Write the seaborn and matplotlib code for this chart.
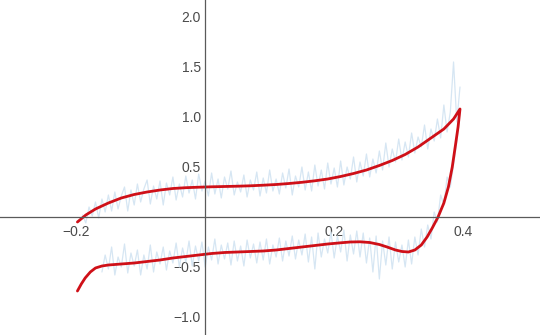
import numpy as np
import pandas as pd
import matplotlib
matplotlib.use("Agg")
import matplotlib.pyplot as plt
import seaborn as sns
from matplotlib.ticker import FixedLocator, FuncFormatter

# ---- data ----
# noisy measurement, forward branch
fwd_x = [round(-0.19 + 0.005 * i, 3) for i in range(118)]
fwd_y = [0.02, -0.06, 0.10, 0.01, 0.15, -0.01, 0.18, 0.05, 0.22, 0.06,
         0.25, 0.08, 0.21, 0.30, 0.06, 0.27, 0.12, 0.33, 0.15, 0.28,
         0.37, 0.13, 0.31, 0.18, 0.36, 0.12, 0.34, 0.22, 0.40, 0.17,
         0.33, 0.20, 0.41, 0.24, 0.37, 0.18, 0.43, 0.26, 0.36, 0.21,
         0.44, 0.23, 0.38, 0.19, 0.40, 0.28, 0.46, 0.22, 0.35, 0.25,
         0.42, 0.20, 0.37, 0.27, 0.45, 0.21, 0.39, 0.24, 0.47, 0.26,
         0.38, 0.23, 0.44, 0.29, 0.48, 0.22, 0.41, 0.30, 0.50, 0.27,
         0.45, 0.26, 0.52, 0.31, 0.47, 0.28, 0.54, 0.33, 0.49, 0.30,
         0.56, 0.32, 0.50, 0.38, 0.60, 0.35, 0.55, 0.41, 0.63, 0.40,
         0.58, 0.44, 0.66, 0.47, 0.74, 0.50, 0.68, 0.55, 0.78, 0.57,
         0.75, 0.60, 0.84, 0.64, 0.80, 0.70, 0.92, 0.68, 0.88, 0.76,
         0.98, 0.79, 1.12, 0.85, 1.05, 1.55, 0.95, 1.30]
# noisy measurement, return branch
rev_x = [round(-0.16 + 0.005 * i, 3) for i in range(112)]
rev_y = [-0.55, -0.38, -0.52, -0.30, -0.58, -0.40, -0.50, -0.27, -0.56, -0.36,
         -0.49, -0.33, -0.58, -0.38, -0.52, -0.28, -0.55, -0.35, -0.47, -0.30,
         -0.53, -0.34, -0.46, -0.26, -0.50, -0.31, -0.45, -0.24, -0.49, -0.29,
         -0.44, -0.25, -0.50, -0.30, -0.43, -0.22, -0.47, -0.28, -0.42, -0.26,
         -0.48, -0.24, -0.44, -0.29, -0.49, -0.23, -0.41, -0.27, -0.46, -0.25,
         -0.43, -0.22, -0.47, -0.28, -0.40, -0.21, -0.44, -0.24, -0.39, -0.19,
         -0.42, -0.23, -0.38, -0.17, -0.45, -0.20, -0.52, -0.16, -0.40, -0.22,
         -0.36, -0.15, -0.41, -0.19, -0.35, -0.13, -0.44, -0.18, -0.37, -0.14,
         -0.40, -0.16, -0.46, -0.21, -0.55, -0.19, -0.62, -0.24, -0.48, -0.20,
         -0.52, -0.25, -0.45, -0.28, -0.50, -0.23, -0.47, -0.20, -0.38, -0.12,
         -0.30, -0.08, -0.22, 0.05, -0.05, 0.22, 0.12, 0.40, 0.30, 0.52,
         0.75, 1.05]

# fitted curve (upper branch then return)
fit_x = [-0.198, -0.185, -0.17, -0.15, -0.13, -0.11, -0.09, -0.07, -0.05, -0.03,
         -0.01, 0.01, 0.03, 0.05, 0.07, 0.09, 0.11, 0.13, 0.15, 0.17,
         0.19, 0.21, 0.23, 0.25, 0.27, 0.29, 0.31, 0.33, 0.35, 0.37,
         0.385, 0.395,
         0.392, 0.388, 0.383, 0.377, 0.370, 0.361, 0.352, 0.344, 0.335, 0.325,
         0.315, 0.305, 0.295, 0.282, 0.27, 0.255, 0.24, 0.225, 0.21, 0.19,
         0.17, 0.15, 0.13, 0.11, 0.09, 0.07, 0.05, 0.03, 0.01, -0.01,
         -0.03, -0.05, -0.07, -0.09, -0.11, -0.13, -0.15, -0.16, -0.17, -0.178,
         -0.186, -0.192, -0.198]
fit_y = [-0.05, 0.02, 0.08, 0.14, 0.19, 0.225, 0.25, 0.27, 0.285, 0.293,
         0.298, 0.302, 0.305, 0.308, 0.312, 0.318, 0.325, 0.335, 0.347, 0.362,
         0.38, 0.405, 0.435, 0.47, 0.515, 0.565, 0.625, 0.70, 0.79, 0.88,
         0.98, 1.08,
         0.90, 0.72, 0.50, 0.30, 0.14, 0.0, -0.11, -0.20, -0.28, -0.33,
         -0.35, -0.345, -0.33, -0.30, -0.275, -0.255, -0.248, -0.25, -0.258, -0.27,
         -0.285, -0.30, -0.315, -0.33, -0.34, -0.345, -0.35, -0.355, -0.365, -0.38,
         -0.395, -0.41, -0.43, -0.445, -0.46, -0.47, -0.48, -0.49, -0.51, -0.55,
         -0.61, -0.67, -0.74]

x_major = [-0.2, 0.2, 0.4]
y_major = [-1.0, -0.5, 0.5, 1.0, 1.5, 2.0]

# ---- plot ----
sns.set_theme(style="white")
plt.rcParams['font.family'] = ['Liberation Sans', 'DejaVu Sans']

fig = plt.figure(figsize=(5.4, 3.35), dpi=100)
ax = fig.add_axes([0, 0, 1, 1])

noise_col = "#d6e6f3"
sns.lineplot(x=fwd_x, y=fwd_y, sort=False, estimator=None, ax=ax,
             color=noise_col, linewidth=0.9)
sns.lineplot(x=rev_x, y=rev_y, sort=False, estimator=None, ax=ax,
             color=noise_col, linewidth=0.9)
sns.lineplot(x=fit_x, y=fit_y, sort=False, estimator=None, ax=ax,
             color="#cf1018", linewidth=2.0)

ax.set_xlim(-0.318, 0.519)
ax.set_ylim(-1.18, 2.17)

for s in ["top", "right"]:
    ax.spines[s].set_visible(False)
ax.spines["left"].set_position(("data", 0))
ax.spines["bottom"].set_position(("data", 0))
for s in ["left", "bottom"]:
    ax.spines[s].set_color("#5a5a5a")
    ax.spines[s].set_linewidth(0.9)

ax.xaxis.set_major_locator(FixedLocator(x_major))
ax.yaxis.set_major_locator(FixedLocator(y_major))
xminor = [v / 100 for v in range(-30, 55, 5) if v not in (-20, 0, 20, 40)]
yminor = [v / 10 for v in range(-11, 22) if v % 5 != 0]
ax.xaxis.set_minor_locator(FixedLocator(xminor))
ax.yaxis.set_minor_locator(FixedLocator(yminor))

fmt = FuncFormatter(lambda v, p: ("\u2212" if v < 0 else "") + f"{abs(v):.1f}")
ax.xaxis.set_major_formatter(fmt)
ax.yaxis.set_major_formatter(fmt)

ax.tick_params(which="major", direction="in", length=4.5, width=0.8,
               colors="#5a5a5a", labelcolor="#4a4a4a", labelsize=10)
ax.tick_params(which="minor", direction="in", length=2.6, width=0.7,
               colors="#5a5a5a")
ax.tick_params(axis="x", which="major", pad=6)
ax.tick_params(axis="y", which="major", pad=3)
ax.set_xlabel("")
ax.set_ylabel("")
ax.set_facecolor("white")

fig.savefig("out.png", dpi=100)
